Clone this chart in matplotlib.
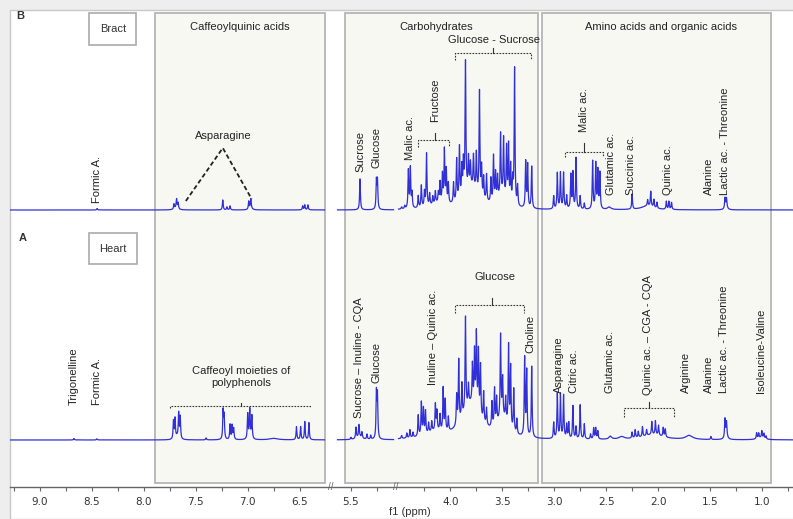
import numpy as np
import matplotlib
matplotlib.use('Agg')
import matplotlib.pyplot as plt
from matplotlib.patches import Rectangle

plt.rcParams['font.family'] = ['Liberation Sans', 'DejaVu Sans']

# spectral windows actually drawn (ppm, low / high)
segments = [(6.26, 9.29), (5.09, 5.63), (0.70, 4.50)]

# --- B: bract, narrow peaks (ppm, height) ---
bract_ppm = [8.45, 7.71, 7.685, 7.67, 7.24, 7.20, 7.17, 6.99, 6.97, 6.47, 6.45, 6.42,
             5.413, 5.255, 5.245,
             4.47, 4.44, 4.405, 4.386, 4.37, 4.31, 4.28, 4.25, 4.23, 4.20,
             4.17, 4.145, 4.116, 4.10, 4.077, 4.058, 4.04, 4.02,
             3.97, 3.94, 3.913, 3.89, 3.875, 3.855, 3.826, 3.807, 3.778, 3.75,
             3.72, 3.70, 3.68, 3.652,
             3.61, 3.585, 3.565, 3.546, 3.517, 3.488, 3.459, 3.44, 3.42, 3.40,
             3.382, 3.353, 3.275, 3.256, 3.217,
             3.005, 2.97, 2.94, 2.91, 2.88, 2.84, 2.82, 2.79, 2.75, 2.71,
             2.63, 2.60, 2.58, 2.56,
             2.25, 2.10, 2.07, 2.04, 2.01, 1.92, 1.895, 1.87, 1.355, 1.34]
bract_h = [1.5, 5, 9, 6, 10, 3, 4, 8, 9, 4, 5, 5,
           31, 28, 28,
           2, 3, 38, 40, 15, 12, 22, 15, 53, 12,
           8, 12, 10, 20, 28, 53, 33, 20,
           20, 42, 52, 29, 32, 130, 30, 23, 32, 38,
           104, 30, 22, 27,
           24, 46, 28, 23, 62, 57, 52, 56, 37, 23,
           137, 20, 46, 43, 42,
           13, 36, 36, 36, 13, 34, 36, 51, 13, 6,
           48, 45, 38, 36,
           15, 6, 15, 8, 6, 8, 8, 7, 10, 9]
# broad components
bract_broad_ppm = [7.69, 6.97, 4.12, 3.80, 3.50, 2.47, 2.10, 1.345]
bract_broad_h = [2, 2, 5, 22, 12, 2.5, 4, 3]
bract_broad_w = [0.02, 0.015, 0.08, 0.09, 0.05, 0.02, 0.07, 0.015]

# --- A: heart ---
heart_ppm = [8.673, 8.452, 7.715, 7.70, 7.665, 7.65, 7.40, 7.237, 7.227, 7.17, 7.15, 7.135,
             7.00, 6.98, 6.96, 6.53, 6.49, 6.45, 6.41,
             5.50, 5.452, 5.423, 5.394, 5.346, 5.31, 5.255, 5.245,
             4.47, 4.42, 4.39, 4.36, 4.31, 4.28, 4.26, 4.24, 4.21,
             4.18, 4.145, 4.13, 4.10, 4.07, 4.05, 4.02,
             3.94, 3.92, 3.89, 3.855, 3.826, 3.788, 3.768, 3.75, 3.73, 3.71, 3.68, 3.652,
             3.60, 3.575, 3.555, 3.517, 3.497, 3.468, 3.44, 3.42, 3.39, 3.36,
             3.285, 3.265, 3.217,
             3.005, 2.97, 2.94, 2.91, 2.88, 2.86, 2.82, 2.79, 2.75, 2.71,
             2.65, 2.62, 2.60, 2.58,
             2.25, 2.22, 2.19, 2.15, 2.11, 2.06, 2.025, 1.995, 1.95, 1.93,
             1.49, 1.355, 1.34,
             1.05, 1.03, 1.00, 0.98, 0.96]
heart_h = [1.5, 1.2, 18, 20, 25, 22, 2, 28, 23, 15, 14, 11,
           25, 27, 23, 13, 13, 18, 17,
           2, 11, 12, 6, 5, 4, 45, 42,
           3, 5, 8, 5, 21, 33, 26, 23, 10,
           10, 26, 19, 16, 43, 31, 14,
           30, 63, 34, 94, 20, 38, 53, 74, 61, 51, 30, 17,
           25, 37, 26, 83, 38, 23, 81, 62, 43, 15,
           78, 65, 71,
           16, 45, 44, 43, 14, 16, 33, 12, 34, 15,
           5, 11, 11, 8,
           6, 8, 6, 10, 6, 13, 14, 10, 9, 8,
           3, 18, 14,
           6, 5, 7, 5, 3]
heart_broad_ppm = [7.68, 6.98, 6.75, 5.42, 4.15, 3.80, 3.50, 2.46, 2.35, 2.05, 1.70, 1.345, 1.01]
heart_broad_h = [3, 3, 1.5, 3, 6, 35, 18, 3, 2.5, 5, 4, 4, 2]
heart_broad_w = [0.015, 0.012, 0.05, 0.03, 0.1, 0.1, 0.06, 0.015, 0.03, 0.12, 0.04, 0.015, 0.04]

NARROW = 0.0045
BASE_B, BASE_A = 277, 47


def spectrum(x, ppm, h, broad_ppm, broad_h, broad_w):
    y = np.zeros_like(x)
    for c, a in zip(ppm, h):
        y += a / (1 + ((x - c) / NARROW) ** 2)
    for c, a, w in zip(broad_ppm, broad_h, broad_w):
        y += a / (1 + ((x - c) / w) ** 2)
    return y


# broken ppm axis: gaps squeezed by a function scale
knots_ppm = np.array([-50, 4.50, 5.09, 5.63, 6.26, 50])
knots_u = np.array([-50, 4.50, 4.548, 5.088, 5.213, 48.953])


def fwd(x):
    return np.interp(x, knots_ppm, knots_u)


def inv(u):
    return np.interp(u, knots_u, knots_ppm)


fig = plt.figure(figsize=(7.93, 5.19), dpi=100, facecolor='#eeeeee')
fig.add_artist(Rectangle((10 / 793, 0), 1, 1 - 10 / 519, transform=fig.transFigure,
                         facecolor='white', edgecolor='#c8c8c8', lw=1.0, zorder=-10))
ax = fig.add_axes([10 / 793, 32 / 519, 783 / 793, 477 / 519])
ax.set_facecolor('none')
ax.set_xscale('function', functions=(fwd, inv))
ax.set_xlim(9.29, 0.70)
ax.set_ylim(0, 477)

# shaded groups
box_col, box_edge = '#f8f8f3', '#b5b5b5'
for lo, hi in [(6.26, 7.894), (3.159, 5.558), (0.908, 3.12)]:
    ax.axvspan(lo, hi, ymin=4 / 477, ymax=474 / 477, facecolor=box_col,
               edgecolor=box_edge, lw=1.3, zorder=0)

line_col = '#3030d6'
for lo, hi in segments:
    x = np.arange(lo, hi, 0.0004)
    ax.plot(x, BASE_B + spectrum(x, bract_ppm, bract_h, bract_broad_ppm, bract_broad_h, bract_broad_w),
            color=line_col, lw=0.9, zorder=3)
    ax.plot(x, BASE_A + spectrum(x, heart_ppm, heart_h, heart_broad_ppm, heart_broad_h, heart_broad_w),
            color=line_col, lw=0.9, zorder=3)

# axis
major = [9.0, 8.5, 8.0, 7.5, 7.0, 6.5, 5.5, 4.0, 3.5, 3.0, 2.5, 2.0, 1.5, 1.0]
minor = [9.25, 8.75, 8.25, 7.75, 7.25, 6.75, 5.25, 4.25, 3.75, 3.25, 2.75, 2.25, 1.75, 1.25, 0.75]
ax.set_xticks(major, labels=['%.1f' % t for t in major])
ax.set_xticks(minor, minor=True)
ax.set_yticks([])
ax.tick_params(axis='x', which='both', direction='out', length=3, width=0.8, color='#666666',
               labelsize=7.5, labelcolor='#333333', pad=4)
for lab in ax.get_xticklabels():
    lab.set_family('DejaVu Sans')
for s in ['left', 'right', 'top']:
    ax.spines[s].set_visible(False)
ax.spines['bottom'].set_color('#666666')
ax.spines['bottom'].set_linewidth(1.0)
for g in [5.945, 4.80]:
    ax.text(g, 0, '//', transform=ax.get_xaxis_transform(), ha='center', va='center',
            fontsize=7, color='#666666', zorder=5)
ax.set_xlabel('f1 (ppm)', fontsize=8, color='#333333')
ax.xaxis.set_label_coords(0.511, -0.042)

txt = dict(fontsize=8, color='#222222')
# group titles
ax.text(7.077, 460, 'Caffeoylquinic acids', ha='center', va='center', **txt)
ax.text(4.135, 460, 'Carbohydrates', ha='center', va='center', **txt)
ax.text(1.971, 460, 'Amino acids and organic acids', ha='center', va='center', **txt)
ax.text(3.585, 447, 'Glucose - Sucrose', ha='center', va='center', **txt)
ax.text(3.575, 210, 'Glucose', ha='center', va='center', **txt)
ax.text(7.067, 110, 'Caffeoyl moieties of\npolyphenols', ha='center', va='center',
        multialignment='center', **txt)
ax.text(7.24, 351, 'Asparagine', ha='center', va='center', **txt)

# panel tags and tissue boxes
ax.text(9.19, 471, 'B', ha='center', va='center', fontsize=8, fontweight='bold', color='#333333')
ax.text(9.17, 249, 'A', ha='center', va='center', fontsize=8, fontweight='bold', color='#333333')
for name, yc in [('Bract', 458), ('Heart', 238.5)]:
    ax.text(8.30, yc, name, ha='center', va='center', fontsize=8, color='#333333',
            bbox=dict(boxstyle='square,pad=0.95', facecolor='white', edgecolor='#aaaaaa', lw=1.2))

# vertical peak labels (text, ppm, y of lower end)
labels_b = [('Formic A.', 8.452, 284), ('Sucrose', 5.413, 315), ('Glucose', 5.25, 319),
            ('Malic ac.', 4.386, 327), ('Fructose', 4.145, 365), ('Malic ac.', 2.715, 355),
            ('Glutamic ac.', 2.454, 292), ('Succinic ac.', 2.26, 292), ('Quinic ac.', 1.903, 292),
            ('Alanine', 1.507, 292), ('Lactic ac. - Threonine', 1.353, 292)]
labels_a = [('Trigonelline', 8.673, 82), ('Formic A.', 8.452, 82),
            ('Sucrose \u2013 Inuline - CQA', 5.423, 69), ('Glucose', 5.25, 104),
            ('Inuline \u2013 Quinic ac.', 4.164, 102), ('Choline', 3.227, 134),
            ('Asparagine', 2.957, 94), ('Citric ac.', 2.812, 94), ('Glutamic ac.', 2.464, 94),
            ('Quinic ac. \u2013 CGA - CQA', 2.097, 92), ('Arginine', 1.729, 94),
            ('Alanine', 1.507, 94), ('Lactic ac. - Threonine', 1.362, 94),
            ('Isoleucine-Valine', 1.005, 94)]
for s, xp, yb in labels_b + labels_a:
    ax.text(xp, yb, s, rotation=90, ha='center', va='bottom', **txt)

# dashed brackets: (left ppm, right ppm, centre ppm, y, end drop, centre rise)
brackets = [(4.309, 4.01, 4.145, 347, 7, 7), (3.952, 3.227, 3.594, 434, 7, 5),
            (2.898, 2.531, 2.715, 335, 5, 9), (7.75, 6.404, 7.067, 81, 2, 3),
            (3.952, 3.295, 3.604, 182, 8, 7), (2.328, 1.845, 2.087, 79, 9, 6)]
dash = dict(color='#333333', lw=0.8, ls=(0, (1.5, 1.2)), zorder=4)
for x1, x2, xc, y, drop, rise in brackets:
    ax.plot([x1, x1, x2, x2], [y - drop, y, y, y - drop], **dash)
    ax.plot([xc, xc], [y, y + rise], color='#333333', lw=0.8, zorder=4)

asp = dict(color='#222222', lw=1.3, ls=(0, (2.5, 1.5)), zorder=4)
ax.plot([7.596, 7.24, 6.962], [286, 339, 288], **asp)

fig.savefig('out.png', dpi=100, facecolor=fig.get_facecolor())
